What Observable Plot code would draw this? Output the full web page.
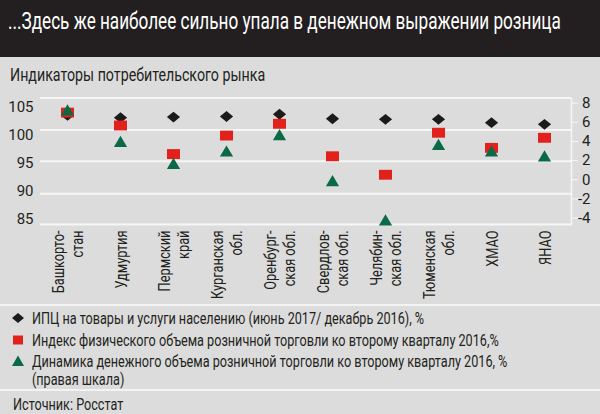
<!DOCTYPE html>
<html><head><meta charset="utf-8">
<script src="https://cdn.jsdelivr.net/npm/d3@7"></script>
<script src="https://cdn.jsdelivr.net/npm/@observablehq/plot@0.6"></script>
<style>
body{margin:0;}
#wrap{position:relative;width:600px;height:414px;background:#dcdcdc;overflow:hidden;font-family:Roboto,sans-serif;color:#231f20;}
#bar{position:absolute;left:0;top:0;width:600px;height:57px;background:#231f20;}
.t{position:absolute;white-space:nowrap;line-height:1;}
.c{display:inline-block;transform-origin:0 0;transform:scaleX(.79);}
.sep{position:absolute;left:0;width:600px;height:2px;background:#f3f3f3;}
#chart{position:absolute;left:0;top:90px;}
.sw{position:absolute;left:11px;}
</style></head>
<body>
<div id="wrap">
  <div id="bar"></div>
  <div class="t" id="title" style="left:8px;top:10px;font-size:23px;color:#fff"><span class="c" style="transform:scaleX(.745)">...Здесь же наиболее сильно упала в денежном выражении розница</span></div>
  <div class="t" id="subtitle" style="left:10px;top:66px;font-size:18px"><span class="c">Индикаторы потребительского рынка</span></div>
  <div id="chart"></div>
  <div class="sep" style="top:304px"></div>
  <div id="legend"></div>
  <div class="sep" style="top:389px"></div>
  <div class="t" id="source" style="left:13px;top:397px;font-size:16px"><span class="c">Источник: Росстат</span></div>
</div>
<script>
const categories = ["Башкорто-\nстан", "Удмуртия", "Пермский\nкрай", "Курганская\nобл.", "Оренбург-\nская обл.", "Свердлов-\nская обл.", "Челябин-\nская обл.", "Тюменская\nобл.", "ХМАО", "ЯНАО"];
const cpi        = [103.5, 103.1, 103.2, 103.3, 103.7, 102.9, 102.8, 102.8, 102.2, 101.9];
const physIndex  = [104.0, 101.7, 96.6, 99.9, 102.0, 96.2, 92.9, 100.4, 97.7, 99.5];
const moneyDyn   = [7.3, 4.0, 1.7, 3.0, 4.7, -0.1, -4.2, 3.7, 3.0, 2.5];
const leftTicks  = [85, 90, 95, 100, 105];
const rightTicks = [-4, -2, 0, 2, 4, 6, 8];
const gridLines  = [106.6, 100.9, 95.3, 89.5, 84.0];
const seriesNames = [
  "ИПЦ на товары и услуги населению (июнь 2017/ декабрь 2016), %",
  "Индекс физического объема розничной торговли ко второму кварталу 2016,%",
  "Динамика денежного объема розничной торговли ко второму кварталу 2016, %\n(правая шкала)"
];
const colors = {cpi: "#1c1a1b", phys: "#e3211c", money: "#0a6a45"};

// right scale (-4..8) expressed in left-axis units
const r2l = d3.scaleLinear().domain([-4, 8]).range([85.18, 105.69]);

const rows = categories.map((c, i) => ({region: c, cpi: cpi[i], phys: physIndex[i], money: r2l(moneyDyn[i])}));

const diamondSym = {draw(ctx, size) {const r = Math.sqrt(size / Math.PI); ctx.moveTo(0, -0.82 * r); ctx.lineTo(r, 0); ctx.lineTo(0, 0.82 * r); ctx.lineTo(-r, 0); ctx.closePath();}};
const rectSym = {draw(ctx, size) {const r = Math.sqrt(size / Math.PI); ctx.rect(-r, -0.76 * r, 2 * r, 1.52 * r);}};
const triSym = {draw(ctx, size) {const r = Math.sqrt(size / Math.PI); ctx.moveTo(0, -0.85 * r); ctx.lineTo(r, 0.85 * r); ctx.lineTo(-r, 0.85 * r); ctx.closePath();}};

const chart = Plot.plot({
  width: 600, height: 215,
  marginTop: 8, marginBottom: 81, marginLeft: 40, marginRight: 29,
  style: {background: "transparent", fontFamily: "Roboto, sans-serif", fontSize: "15px", color: "#231f20", overflow: "visible"},
  x: {type: "point", domain: categories, range: [67, 544], padding: 0, axis: null},
  y: {domain: [85, 105], range: [128.5, 16.5], axis: null},
  marks: [
    Plot.ruleY(gridLines, {stroke: "#f6f6f6", strokeWidth: 2}),
    Plot.frame({anchor: "right", stroke: "#f6f6f6", strokeWidth: 1.5}),
    Plot.axisY(leftTicks, {anchor: "left", tickSize: 0, tickPadding: 7, fontSize: 15}),
    Plot.axisY(rightTicks.map(r2l), {anchor: "right", tickSize: 6, tickPadding: 13, textAnchor: "end", stroke: "#f6f6f6", fontSize: 15, tickFormat: v => Math.round(r2l.invert(v))}),
    Plot.text(rows, {x: "region", text: "region", frameAnchor: "bottom", dy: 6, rotate: -90, textAnchor: "end", lineAnchor: "middle", lineHeight: 1.17, fontSize: 16, fill: "#231f20", className: "catlab"}),
    Plot.dot(rows, {x: "region", y: "cpi", symbol: diamondSym, r: 6.6, fill: colors.cpi}),
    Plot.dot(rows, {x: "region", y: "phys", symbol: rectSym, r: 6.5, fill: colors.phys}),
    Plot.dot(rows, {x: "region", y: "money", symbol: triSym, r: 6.6, fill: colors.money})
  ]
});
// condense the rotated category labels along their reading direction
chart.querySelectorAll("g.catlab text, .catlab text").forEach(t => {
  const tr = t.getAttribute("transform");
  if (tr) t.setAttribute("transform", tr + " scale(0.8,1)");
});
document.getElementById("chart").appendChild(chart);

// legend
const legend = document.getElementById("legend");
const swatchPaths = [
  "M7,2 L13,7 L7,12 L1,7 Z",
  "M2,2.5 H12 V11.5 H2 Z",
  "M7,1.5 L13,12 L1,12 Z"
];
const swatchColors = [colors.cpi, colors.phys, colors.money];
const rowTops = [310, 332, 353];
seriesNames.forEach((name, i) => {
  const sw = document.createElementNS("http://www.w3.org/2000/svg", "svg");
  sw.setAttribute("width", 14); sw.setAttribute("height", 14);
  sw.setAttribute("class", "sw"); sw.style.top = (rowTops[i] + 1) + "px";
  sw.innerHTML = `<path d="${swatchPaths[i]}" fill="${swatchColors[i]}"/>`;
  legend.appendChild(sw);
  const t = document.createElement("div");
  t.className = "t"; t.style.left = "32px"; t.style.top = rowTops[i] + "px"; t.style.fontSize = "16px";
  t.style.lineHeight = "18px";
  t.innerHTML = name.split("\n").map(s => `<span class="c">${s}</span>`).join("<br>");
  legend.appendChild(t);
});
</script>
</body></html>
